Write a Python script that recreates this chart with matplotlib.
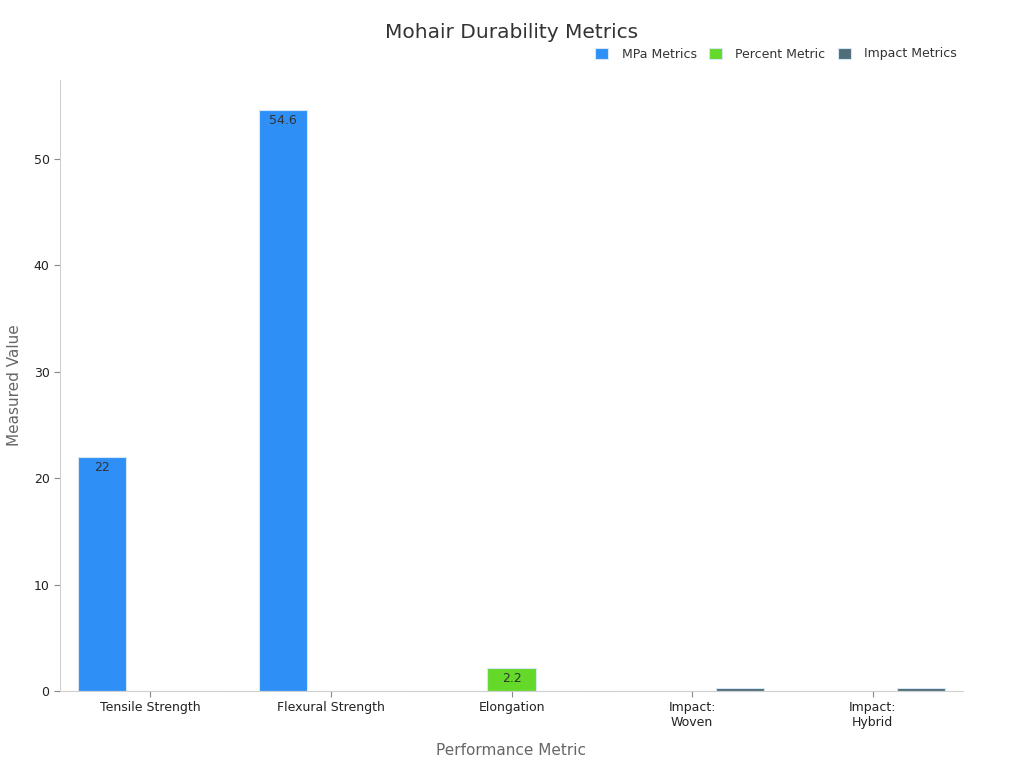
import matplotlib.pyplot as plt
import numpy as np

categories = ["Tensile Strength", "Flexural Strength", "Elongation", "Impact:\nWoven", "Impact:\nHybrid"]
mpa_values = [22, 54.6, 0, 0, 0]
percent_values = [0, 0, 2.2, 0, 0]
impact_values = [0, 0, 0, 0.28, 0.26]

series = [
    ("MPa Metrics", mpa_values, "#2e8ff7"),
    ("Percent Metric", percent_values, "#64d92a"),
    ("Impact Metrics", impact_values, "#4f6d7a"),
]

fig = plt.figure(figsize=(10.24, 7.68), dpi=100)
ax = fig.add_axes([60 / 1024, 1 - 691 / 768, 903 / 1024, 611 / 768])

x = np.arange(len(categories))
width = 0.8 / 3

for i, (name, vals, color) in enumerate(series):
    pos = x + (i - 1) * width
    bars = ax.bar(pos, vals, width, color=color, edgecolor="#d6e6f5", linewidth=0.8, label=name)
    for b, v in zip(bars, vals):
        if v >= 1:
            ax.text(b.get_x() + b.get_width() / 2, v - 0.4, f"{v:g}", ha="center", va="top",
                    fontsize=9, color="#333333")

ax.set_xlim(-0.5, 4.5)
ax.set_ylim(0, 57.4)
ax.set_xticks(x)
ax.set_xticklabels(categories, fontsize=9, color="#222222")
ax.set_yticks([0, 10, 20, 30, 40, 50])
ax.tick_params(axis="y", labelsize=9, colors="#222222", length=4, color="#888888")
ax.tick_params(axis="x", length=4, color="#888888")

for s in ["top", "right"]:
    ax.spines[s].set_visible(False)
for s in ["left", "bottom"]:
    ax.spines[s].set_color("#d0d0d0")

ax.set_xlabel("Performance Metric", fontsize=11, color="#666666", labelpad=10)
ax.set_ylabel("Measured Value", fontsize=11, color="#666666", labelpad=8)

fig.text(0.5, 1 - 33 / 768, "Mohair Durability Metrics", ha="center", va="center", fontsize=14.5, color="#333333")
leg = fig.legend(loc="center right", bbox_to_anchor=(962 / 1024, 1 - 54 / 768), ncol=3, frameon=False,
                 fontsize=9, handlelength=1.0, handleheight=1.0, columnspacing=1.0, handletextpad=1.1,
                 borderaxespad=0)
for t in leg.get_texts():
    t.set_color("#333333")

fig.savefig("out.png", dpi=100)
